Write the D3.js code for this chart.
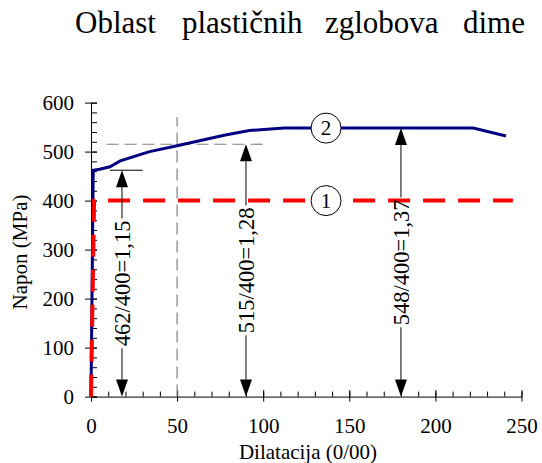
<!DOCTYPE html>
<html>
<head>
<meta charset="utf-8">
<script src="https://cdn.jsdelivr.net/npm/d3@7"></script>
<style>
  body { margin: 0; background: #fff; }
</style>
</head>
<body>
<div id="canvas"></div>
<script>
// data
var curve2 = [[0,0],[1.3,462],[5,464],[11,469],[17,481],[34,500],[50,512],[63,522],[78,534],[92,543],[112,548],[222,548],[241,532]];
var curve1 = [[0,0],[1.8,400],[245,400]];
var arrowX = [18, 90, 180];
var arrowTop = [462, 515, 548];
var arrowLabels = ['462/400=1,15', '515/400=1,28', '548/400=1,37'];
var markerX = 136.5;
var markers = [{n:'2', v:548}, {n:'1', v:400}];
var xMajor = [0, 50, 100, 150, 200, 250];
var yMajor = [0, 100, 200, 300, 400, 500, 600];
var titleWords = ['Oblast', 'plastičnih', 'zglobova', 'dime'];

var W = 542, H = 463;
var FONT = 'Liberation Serif';
var svg = d3.select('#canvas').append('svg')
    .attr('width', W).attr('height', H)
    .attr('font-family', FONT);

var x = d3.scaleLinear().domain([0, 250]).range([91, 521.5]);
var y = d3.scaleLinear().domain([0, 600]).range([396.6, 102.6]);

// title (cut off at right edge like the original)
var titleX = [75, 182, 325, 463];
svg.append('text')
    .attr('y', 33)
    .attr('font-size', 31)
    .selectAll('tspan').data(titleWords).enter()
    .append('tspan')
    .attr('x', function(d, i){ return titleX[i]; })
    .text(function(d){ return d; });

// axes
function styleAxis(g){
  g.attr('font-family', FONT).attr('font-size', 21);
  g.selectAll('text').attr('fill', '#000');
  g.selectAll('line,path').attr('stroke', '#000');
}

svg.append('g').attr('transform', 'translate(' + x(0) + ',0)')
  .call(d3.axisLeft(y).tickValues(d3.range(0, 601, 20)).tickSize(-6).tickFormat(''))
  .call(function(g){ g.select('.domain').remove(); })
  .call(styleAxis);
svg.append('g').attr('transform', 'translate(' + x(0) + ',0)')
  .call(d3.axisLeft(y).tickValues(yMajor).tickSize(6).tickSizeOuter(0).tickPadding(11).tickFormat(d3.format('d')))
  .call(function(g){ g.selectAll('.tick line').attr('x2', -6).attr('x1', 6); })
  .call(styleAxis);

svg.append('g').attr('transform', 'translate(0,' + y(0) + ')')
  .call(d3.axisBottom(x).tickValues(d3.range(0, 251, 10)).tickSize(-5).tickFormat(''))
  .call(function(g){ g.select('.domain').remove(); })
  .call(styleAxis);
svg.append('g').attr('transform', 'translate(0,' + y(0) + ')')
  .call(d3.axisBottom(x).tickValues(xMajor).tickSize(5).tickSizeOuter(0).tickPadding(16))
  .call(function(g){ g.selectAll('.tick line').attr('y1', -6.5); })
  .call(styleAxis);

svg.append('text')
  .attr('x', 308).attr('y', 459)
  .attr('text-anchor', 'middle')
  .attr('font-size', 21)
  .text('Dilatacija (0/00)');

svg.append('text')
  .attr('transform', 'translate(27,252) rotate(-90)')
  .attr('text-anchor', 'middle')
  .attr('font-size', 21)
  .text('Napon (MPa)');

// grey helper lines
svg.append('line')
  .attr('x1', x(50)).attr('x2', x(50))
  .attr('y1', y(0)).attr('y2', y(570))
  .attr('stroke', '#808080').attr('stroke-width', 1.2)
  .attr('stroke-dasharray', '12,6');
svg.append('line')
  .attr('x1', x(9)).attr('x2', x(100))
  .attr('y1', y(515)).attr('y2', y(515))
  .attr('stroke', '#808080').attr('stroke-width', 1.2)
  .attr('stroke-dasharray', '12,6');
svg.append('line')
  .attr('x1', x(11)).attr('x2', x(30))
  .attr('y1', y(462)).attr('y2', y(462))
  .attr('stroke', '#000').attr('stroke-width', 1);

var line = d3.line()
  .x(function(d){ return x(d[0]); })
  .y(function(d){ return y(d[1]); });

svg.append('path').datum(curve2)
  .attr('d', line)
  .attr('fill', 'none')
  .attr('stroke', '#000080')
  .attr('stroke-width', 3);

svg.append('path').datum(curve1)
  .attr('d', line)
  .attr('fill', 'none')
  .attr('stroke', '#ff0000')
  .attr('stroke-width', 4)
  .attr('stroke-dasharray', '22,13');

// arrows with rotated labels
var aw = 6, ah = 17;
arrowX.forEach(function(v, i){
  var ax = x(v), top = y(arrowTop[i]), bot = y(0);
  var mid = (top + bot) / 2;
  var g = svg.append('g');
  var t = g.append('text')
    .attr('transform', 'translate(' + ax + ',' + mid + ') rotate(-90)')
    .attr('text-anchor', 'middle')
    .attr('dy', '0.35em')
    .attr('font-size', 22.5)
    .text(arrowLabels[i]);
  var half = t.node().getComputedTextLength() / 2 + 2;
  g.append('line').attr('x1', ax).attr('x2', ax)
    .attr('y1', top + ah).attr('y2', mid - half)
    .attr('stroke', '#000');
  g.append('line').attr('x1', ax).attr('x2', ax)
    .attr('y1', mid + half).attr('y2', bot - ah)
    .attr('stroke', '#000');
  g.append('path')
    .attr('d', 'M' + ax + ',' + top + 'L' + (ax - aw) + ',' + (top + ah) + 'L' + (ax + aw) + ',' + (top + ah) + 'Z')
    .attr('fill', '#000');
  g.append('path')
    .attr('d', 'M' + ax + ',' + bot + 'L' + (ax - aw) + ',' + (bot - ah) + 'L' + (ax + aw) + ',' + (bot - ah) + 'Z')
    .attr('fill', '#000');
});

// circled curve numbers
var mk = svg.selectAll('.marker').data(markers).enter()
  .append('g').attr('class', 'marker')
  .attr('transform', function(d){ return 'translate(' + x(markerX) + ',' + y(d.v) + ')'; });
mk.append('circle').attr('r', 15)
  .attr('fill', '#fff').attr('stroke', '#000').attr('stroke-width', 1);
mk.append('text')
  .attr('text-anchor', 'middle')
  .attr('dy', '0.35em')
  .attr('font-size', 21)
  .text(function(d){ return d.n; });
</script>
</body>
</html>
